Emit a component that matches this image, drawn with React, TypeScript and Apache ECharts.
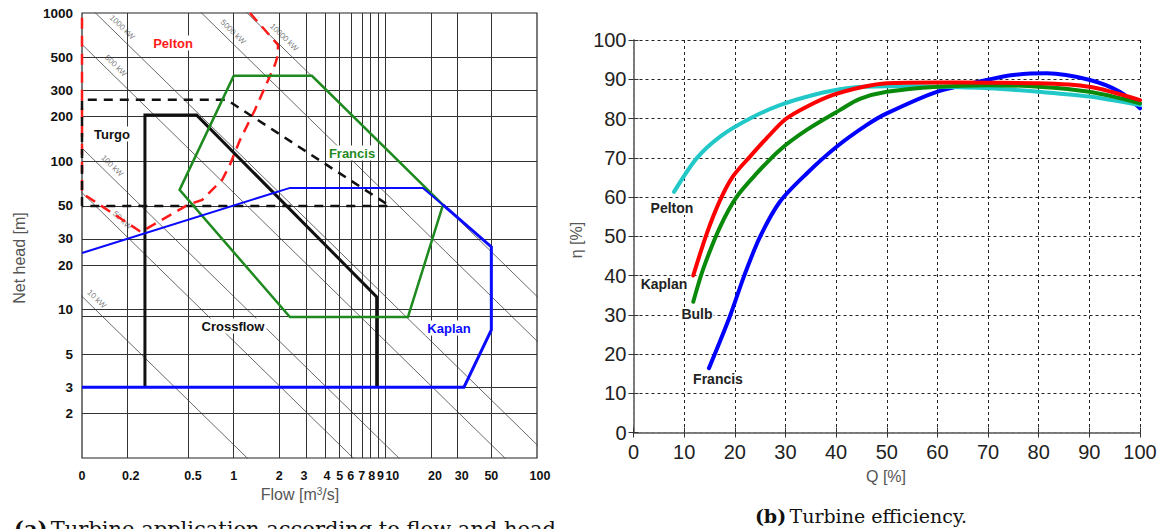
import React, { useEffect, useRef } from "react";
import * as echarts from "echarts";

// ---------- Left panel: application ranges over flow (m³/s) and net head (m) ----------
const flowLabels = [0.1, 0.2, 0.5, 1, 2, 3, 4, 5, 6, 7, 8, 9, 10, 20, 30, 50, 100];
const headLabels = [2, 3, 5, 10, 20, 30, 50, 100, 200, 300, 500, 1000];
const flowGridLines = [0.2, 0.5, 1, 2, 3, 4, 5, 6, 7, 8, 9, 10, 20, 30, 50];
const headGridLines = [2, 3, 5, 9, 10, 20, 30, 50, 100, 200, 300, 500];
// sideways shift (px) of some flow labels so the crowded ones stay apart
const flowLabelNudge: Record<string, number> = {
  "0.2": 3, "0.5": 5, "3": -2, "4": 2, "6": -1, "8": 1, "9": 2, "10": 7, "20": 4, "30": 4, "100": 3,
};

// constant-power lines, P = gamma * Q * H * eta
const powerKW = [10, 50, 100, 500, 1000, 5000, 10000];
const GAMMA = 9.81; // kN/m³
const ETA = 0.83;
// flow at which each power label is written, and how far above its line
const powerLabelFlow = [0.125, 0.184, 0.158, 0.167, 0.184, 0.99, 2.15];
const LABEL_LIFT = 1.2;

// region outlines as [flow, head]
const peltonRange = [
  [1.28, 1000], [1.96, 609], [1.96, 522], [1.87, 447], [1.38, 222], [1.1, 139],
  [0.945, 95], [0.84, 75], [0.62, 55], [0.5, 51], [0.245, 33.4], [0.1, 61], [0.1, 1000],
];
const turgoRange = [[0.1, 50], [0.1, 260], [0.9, 260], [10.7, 50], [0.1, 50]];
const crossflowRange = [[0.26, 3], [0.26, 205], [0.57, 205], [8.77, 12.2], [8.77, 3]];
const francisRange = [[1, 377], [3.28, 377], [24, 50.8], [14.1, 8.93], [2.35, 8.93], [0.44, 64.2], [1, 377]];
const kaplanRangeOuter = [[0.1, 3], [33, 3], [50, 7.3], [50, 26.5], [24, 50.8]];
const kaplanRangeInner = [[24, 50.8], [17.7, 66.2], [2.35, 66.2], [0.1, 24.1]];

// ---------- Right panel: efficiency (%) over relative flow Q (%) ----------
const effTicks = [0, 10, 20, 30, 40, 50, 60, 70, 80, 90, 100];
const effPelton = [
  [8, 61.3], [12.5, 69.9], [17.1, 75.4], [23, 80], [28.9, 83.4], [35.5, 86], [42.1, 87.7],
  [50, 88.2], [60, 88.1], [70, 87.7], [80, 86.8], [90, 85.6], [100, 83.4],
];
const effKaplan = [
  [11.8, 40], [14.5, 50.8], [17.1, 59.2], [19.6, 65.2], [23, 70.3], [26.3, 75], [30, 79.8],
  [34.2, 83], [39.4, 86], [45.4, 88.1], [50, 89], [60, 89.2], [70, 89.1], [80, 89], [90, 88.1], [100, 84.7],
];
const effBulb = [
  [11.8, 33.3], [13.8, 41.8], [17.1, 52.4], [20.4, 60.1], [24.3, 66], [28.9, 72], [34.2, 77.1],
  [40.8, 82.2], [44.7, 85], [50, 86.8], [60, 88.1], [70, 88.5], [80, 88.1], [90, 86.8], [100, 83.9],
];
const effFrancis = [
  [14.9, 16.4], [19, 29.5], [21.9, 40.1], [25, 49.9], [28.9, 58.8], [34.2, 66], [40.1, 72.8],
  [46, 78.3], [50, 81.3], [59.9, 86.8], [69.7, 89.8], [75, 91.1], [81.6, 91.5], [90.1, 89.8],
  [96, 86.8], [100, 82.6],
];

const SANS = "Liberation Sans, Arial, sans-serif";
const SERIF = "DejaVu Serif, serif";

const powerConst = (kw: number) => kw / (GAMMA * ETA); // Q·H in m^4/s

function logLabel(v: number): string {
  if (v < 0.15) return "0";
  if (v < 1) return (Math.round(v * 10) / 10).toString();
  return String(Math.round(v));
}

function buildOption() {
  const L = { xAxisIndex: 0, yAxisIndex: 0 };
  const R = { xAxisIndex: 1, yAxisIndex: 1 };

  const region = (name: string, data: number[][], color: string, width: number, type: any) => ({
    name,
    type: "line",
    ...L,
    data,
    showSymbol: false,
    symbol: "none",
    clip: false,
    silent: true,
    z: 5,
    lineStyle: { color, width, type, cap: "butt", join: "miter" },
  });

  const effCurve = (name: string, data: number[][], color: string) => ({
    name,
    type: "line",
    ...R,
    data,
    smooth: 0.3,
    showSymbol: false,
    symbol: "none",
    silent: true,
    z: 5,
    lineStyle: { color, width: 4, cap: "round" },
  });

  const series: any[] = [];

  // grid lines of the log-log panel
  series.push({
    type: "line",
    ...L,
    data: [[1, 10]],
    showSymbol: false,
    symbol: "none",
    lineStyle: { width: 0 },
    silent: true,
    z: 1,
    markLine: {
      silent: true,
      symbol: ["none", "none"],
      label: { show: false },
      lineStyle: { color: "#333", width: 1, type: "solid" },
      emphasis: { disabled: true },
      data: [
        ...flowGridLines.map((v) => ({ xAxis: v })),
        ...headGridLines.map((v) => ({ yAxis: v })),
      ],
    },
  });

  // constant-power lines
  powerKW.forEach((kw) => {
    const c = powerConst(kw);
    series.push({
      type: "line",
      ...L,
      data: [[0.01, c / 0.01], [1000, c / 1000]],
      showSymbol: false,
      symbol: "none",
      silent: true,
      clip: true,
      z: 2,
      lineStyle: { color: "#444", width: 0.8 },
    });
  });

  // power labels
  series.push({
    type: "scatter",
    ...L,
    silent: true,
    symbolSize: 1,
    itemStyle: { color: "rgba(0,0,0,0)" },
    z: 3,
    data: powerKW.map((kw, i) => {
      const q = powerLabelFlow[i];
      return {
        value: [q, (powerConst(kw) / q) * LABEL_LIFT],
        label: { formatter: `${kw} kW` },
      };
    }),
    label: {
      show: true,
      position: "inside",
      rotate: -44,
      fontSize: 8,
      fontFamily: SANS,
      color: "#555",
    },
  });

  series.push(region("Pelton", peltonRange, "#ff1a1a", 2.5, [11, 7]));
  series.push(region("Turgo", turgoRange, "#111", 2.5, [9, 7]));
  series.push(region("Crossflow", crossflowRange, "#111", 3, "solid"));
  series.push(region("Francis", francisRange, "#1f8a1f", 2.5, "solid"));
  series.push(region("Kaplan", kaplanRangeOuter, "#0a0aff", 3, "solid"));
  series.push(region("Kaplan upper", kaplanRangeInner, "#0a0aff", 2, "solid"));

  series.push(effCurve("Francis", effFrancis, "#0000ff"));
  series.push(effCurve("Pelton", effPelton, "#22c8c8"));
  series.push(effCurve("Bulb", effBulb, "#0a8a0a"));
  series.push(effCurve("Kaplan", effKaplan, "#ff0000"));

  const boldLabel = {
    fontFamily: SANS,
    fontWeight: "bold",
    fontSize: 12.5,
    color: "#111",
  };

  // rich styles that push a flow label left or right of its grid line
  const nudgeRich: Record<string, any> = {};
  const nudgeKey = (s: string) => "n" + s.replace(".", "_");
  Object.keys(flowLabelNudge).forEach((k) => {
    const s = flowLabelNudge[k];
    nudgeRich[nudgeKey(k)] = {
      ...boldLabel,
      padding: s < 0 ? [0, -2 * s, 0, 0] : [0, 0, 0, 2 * s],
    };
  });

  const effAxisLabel = { fontFamily: SANS, fontSize: 20, color: "#222" };

  const text = (t: string, x: number, y: number, style: any, extra: any = {}) => ({
    type: "text",
    x,
    y,
    z: 100,
    silent: true,
    style: { text: t, align: "center", verticalAlign: "middle", ...style },
    ...extra,
  });

  const regionLabel = (t: string, x: number, y: number, color: string) =>
    text(t, x, y, {
      fill: color,
      fontFamily: SANS,
      fontWeight: "bold",
      fontSize: 13,
      backgroundColor: "#fff",
      padding: [1, 2],
    });

  const effLabel = (t: string, x: number, y: number) =>
    text(t, x, y, {
      fill: "#222",
      fontFamily: SANS,
      fontWeight: "bold",
      fontSize: 14,
      backgroundColor: "#fff",
      padding: [0, 1],
    });

  return {
    animation: false,
    backgroundColor: "#fff",
    grid: [
      { left: 82, top: 13, width: 455, height: 445, show: true, borderColor: "#222", borderWidth: 1.2, backgroundColor: "transparent" },
      { left: 633.5, top: 40, width: 506.5, height: 392.5, show: false },
    ],
    xAxis: [
      {
        type: "log",
        logBase: 10,
        gridIndex: 0,
        min: 0.1,
        max: 100,
        axisLine: { show: false },
        axisTick: { show: false },
        splitLine: { show: false },
        axisLabel: {
          ...boldLabel,
          margin: 11,
          hideOverlap: false,
          customValues: flowLabels.map((v) => (v === 0.1 ? 0.1000001 : v === 100 ? 99.9999 : v)),
          formatter: (v: number) => {
            const s = logLabel(v);
            return flowLabelNudge[s] !== undefined ? `{${nudgeKey(s)}|${s}}` : s;
          },
          rich: nudgeRich,
        },
      },
      {
        type: "value",
        gridIndex: 1,
        min: 0,
        max: 100,
        interval: 10,
        axisLine: { show: true, lineStyle: { color: "#777", width: 1.5 } },
        axisTick: { show: true, inside: true, length: 5, lineStyle: { color: "#333" } },
        axisLabel: { ...effAxisLabel, margin: 9 },
        splitLine: { show: true, lineStyle: { color: "#222", width: 1, type: [3, 3] } },
      },
      {
        type: "value",
        gridIndex: 1,
        position: "top",
        min: 0,
        max: 100,
        interval: 10,
        axisLine: { show: true, lineStyle: { color: "#777", width: 1.5 } },
        axisTick: { show: true, inside: true, length: 5, lineStyle: { color: "#333" } },
        axisLabel: { show: false },
        splitLine: { show: false },
      },
    ],
    yAxis: [
      {
        type: "log",
        logBase: 10,
        gridIndex: 0,
        min: 1,
        max: 1000,
        axisLine: { show: false },
        axisTick: { show: false },
        splitLine: { show: false },
        axisLabel: {
          ...boldLabel,
          fontSize: 13.5,
          margin: 9,
          customValues: headLabels.map((v) => (v === 1000 ? 999.999 : v)),
          formatter: (v: number) => logLabel(v),
        },
      },
      {
        type: "value",
        gridIndex: 1,
        min: 0,
        max: 100,
        interval: 10,
        axisLine: { show: true, lineStyle: { color: "#777", width: 1.5 } },
        axisTick: { show: true, inside: true, length: 5, lineStyle: { color: "#333" } },
        axisLabel: { ...effAxisLabel, margin: 7, customValues: effTicks },
        splitLine: { show: true, lineStyle: { color: "#222", width: 1, type: [3, 3] } },
      },
      {
        type: "value",
        gridIndex: 1,
        position: "right",
        min: 0,
        max: 100,
        interval: 10,
        axisLine: { show: true, lineStyle: { color: "#777", width: 1.5 } },
        axisTick: { show: true, inside: true, length: 5, lineStyle: { color: "#333" } },
        axisLabel: { show: false },
        splitLine: { show: false },
      },
    ],
    series,
    graphic: [
      // left panel
      regionLabel("Pelton", 173, 43, "#ff1a1a"),
      regionLabel("Turgo", 112, 134, "#111"),
      regionLabel("Francis", 352, 153, "#1f8a1f"),
      regionLabel("Crossflow", 233, 326, "#111"),
      regionLabel("Kaplan", 449, 328, "#0a0aff"),
      text("Net head [m]", 19, 258, { fill: "#555", fontFamily: SANS, fontSize: 16 }, { rotation: Math.PI / 2 }),
      {
        type: "text",
        x: 300,
        y: 494,
        z: 100,
        silent: true,
        style: {
          text: "{a|Flow [m}{s|3}{a|/s]}",
          align: "center",
          verticalAlign: "middle",
          rich: {
            a: { fontFamily: SANS, fontSize: 16, fill: "#555", color: "#555" },
            s: { fontFamily: SANS, fontSize: 10, fill: "#555", color: "#555", verticalAlign: "top", padding: [0, 0, 6, 0] },
          },
        },
      },
      // right panel
      effLabel("Pelton", 672, 208),
      effLabel("Kaplan", 664, 284),
      effLabel("Bulb", 697, 314),
      effLabel("Francis", 718, 379),
      text("\u03b7 [%]", 576, 240, { fill: "#555", fontFamily: SANS, fontSize: 16 }, { rotation: Math.PI / 2 }),
      text("Q [%]", 886, 476, { fill: "#555", fontFamily: SANS, fontSize: 16 }),
      // captions
      {
        type: "text",
        x: 861,
        y: 516,
        z: 100,
        silent: true,
        style: {
          text: "{b|(b)} {r|Turbine efficiency.}",
          align: "center",
          verticalAlign: "middle",
          rich: {
            b: { fontFamily: SERIF, fontSize: 19, fontWeight: "bold", fill: "#111", color: "#111" },
            r: { fontFamily: SERIF, fontSize: 19, fill: "#111", color: "#111" },
          },
        },
      },
      {
        type: "text",
        x: 14,
        y: 518,
        z: 100,
        silent: true,
        style: {
          text: "{b|(a)} {r|Turbine application according to flow and head}",
          align: "left",
          verticalAlign: "top",
          rich: {
            b: { fontFamily: SERIF, fontSize: 21, fontWeight: "bold", fill: "#111", color: "#111" },
            r: { fontFamily: SERIF, fontSize: 21, fill: "#111", color: "#111" },
          },
        },
      },
    ],
  };
}

export default function App() {
  const ref = useRef<HTMLDivElement>(null);
  useEffect(() => {
    if (!ref.current) return;
    const chart = echarts.init(ref.current, null, { renderer: "svg" });
    chart.setOption(buildOption() as any);
    return () => chart.dispose();
  }, []);
  return (
    <div
      ref={ref}
      style={{ position: "fixed", left: 0, top: 0, width: 1166, height: 529, background: "#fff" }}
    />
  );
}
